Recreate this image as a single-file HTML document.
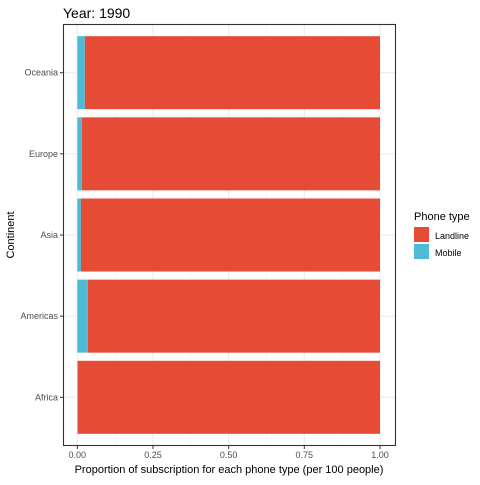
<!DOCTYPE html>
<html><head><meta charset="utf-8"><style>
body{margin:0;background:#fff;font-family:"Liberation Sans",Arial,sans-serif}
svg text{font-family:"Liberation Sans",Arial,sans-serif}
</style></head><body>
<svg id="chart" width="480" height="480">
<rect width="480" height="480" fill="#fff"/>
<text x="63" y="18" font-size="14" fill="#000">Year: 1990</text>
<g id="grid"></g>
<g id="bars"></g>
<rect x="63.5" y="24.5" width="332" height="421" fill="none" stroke="#333" stroke-width="1.1"/>
<g id="axes"></g>
<text x="229" y="473" font-size="11" text-anchor="middle" fill="#000">Proportion of subscription for each phone type (per 100 people)</text>
<text x="0" y="0" font-size="11" text-anchor="middle" fill="#000" transform="translate(14,235) rotate(-90)">Continent</text>
<g>
<text x="414" y="220" font-size="11" fill="#000">Phone type</text>
<rect x="414" y="227" width="15" height="15" fill="#E64B35"/>
<text x="435" y="239" font-size="9" fill="#000">Landline</text>
<rect x="414" y="244" width="15" height="15" fill="#4DBBD5"/>
<text x="435" y="256" font-size="9" fill="#000">Mobile</text>
</g>
</svg>
<script>
const categories=["Africa","Americas","Asia","Europe","Oceania"];
const mobile=[0.002,0.035,0.012,0.015,0.025];
const landline=[0.998,0.965,0.988,0.985,0.975];
const xTicks=[0,0.25,0.5,0.75,1];
const xTickLabels=["0.00","0.25","0.50","0.75","1.00"];
const NS="http://www.w3.org/2000/svg";
const x0=77.3,x1=380,yTop=24,yBot=446;
const xs=v=>x0+v*(x1-x0);
const step=(yBot-yTop)/(categories.length-1+1.2);
const yc=i=>yBot-step*(i+0.6);
const bw=step*0.9;
function mk(t,a,p){const e=document.createElementNS(NS,t);for(const k in a)e.setAttribute(k,a[k]);p.appendChild(e);return e;}
const grid=document.getElementById('grid'),bars=document.getElementById('bars'),axes=document.getElementById('axes');
for(let i=0;i<xTicks.length;i++){
 const g=mk('line',{x1:xs(xTicks[i]),x2:xs(xTicks[i]),y1:yTop,y2:yBot,stroke:'#ebebeb','stroke-width':1.1},grid);
 
 
 if(i<xTicks.length-1){const m=(xTicks[i]+xTicks[i+1])/2;
  const g2=mk('line',{x1:xs(m),x2:xs(m),y1:yTop,y2:yBot,stroke:'#f3f3f3','stroke-width':0.6},grid);
  
  }
 const t=mk('line',{x1:xs(xTicks[i]),x2:xs(xTicks[i]),y1:yBot,y2:yBot+3,stroke:'#333'},axes);
 
 
 const l=mk('text',{x:xs(xTicks[i]),y:yBot+12,'font-size':9,'text-anchor':'middle',fill:'#4d4d4d'},axes);
 l.textContent=xTickLabels[i];
 
 
}
categories.forEach((c,i)=>{
 const y=yc(i);
 const g=mk('line',{x1:63,x2:396,y1:y,y2:y,stroke:'#ebebeb','stroke-width':1.1},grid);
 
 
 const m=mk('rect',{x:xs(0),y:y-bw/2,width:xs(mobile[i])-xs(0),height:bw,fill:'#4DBBD5'},bars);
 
 
 const l=mk('rect',{x:xs(mobile[i]),y:y-bw/2,width:xs(mobile[i]+landline[i])-xs(mobile[i]),height:bw,fill:'#E64B35'},bars);
 
 
 const t=mk('line',{x1:60,x2:63,y1:y,y2:y,stroke:'#333'},axes);
 
 
 const tx=mk('text',{x:58,y:y+3,'font-size':9,'text-anchor':'end',fill:'#4d4d4d'},axes);
 tx.textContent=c;
 
 
});
</script>
</body></html>
